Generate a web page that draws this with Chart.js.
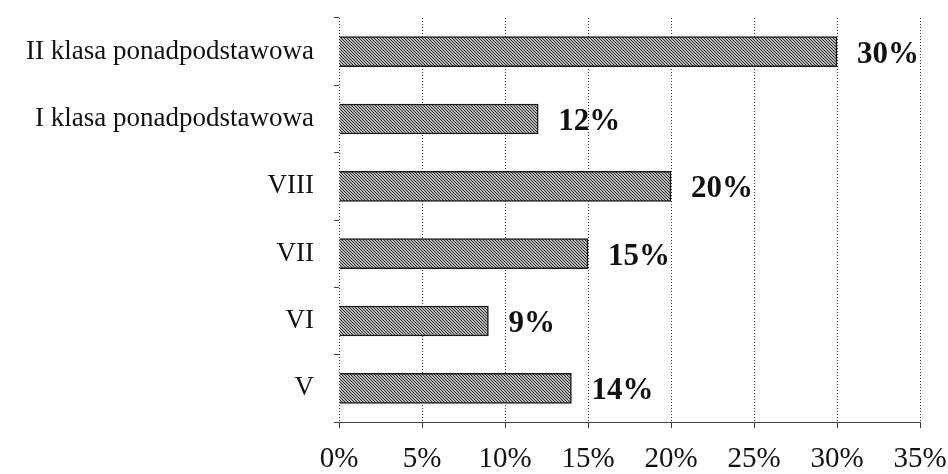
<!DOCTYPE html>
<html>
<head>
<meta charset="utf-8">
<script src="https://cdn.jsdelivr.net/npm/chart.js@4/dist/chart.umd.min.js"></script>
<style>
html,body{margin:0;padding:0;background:#fff;}
#wrap{width:948px;height:474px;}
</style>
</head>
<body>
<div id="wrap"><canvas id="c" width="948" height="474"></canvas></div>
<script>
const categories = ["II klasa ponadpodstawowa", "I klasa ponadpodstawowa", "VIII", "VII", "VI", "V"];
const values = [30, 12, 20, 15, 9, 14];
const xTicks = [0, 5, 10, 15, 20, 25, 30, 35];

function makePattern() {
  const t = document.createElement('canvas');
  t.width = 6; t.height = 6;
  const g = t.getContext('2d');
  g.fillStyle = '#b8b8b8';
  g.fillRect(0, 0, 6, 6);
  g.strokeStyle = '#2e2e2e';
  g.lineWidth = 1;
  g.beginPath();
  for (let i = -6; i <= 12; i += 3) {
    g.moveTo(i, 0); g.lineTo(i + 6, 6);
  }
  g.stroke();
  return document.getElementById('c').getContext('2d').createPattern(t, 'repeat');
}

const labelPlugin = {
  id: 'barLabels',
  afterDatasetsDraw(chart) {
    const ctx = chart.ctx;
    const meta = chart.getDatasetMeta(0);
    ctx.save();
    ctx.font = 'bold 31px "Liberation Serif", serif';
    ctx.fillStyle = '#111';
    ctx.textAlign = 'left';
    ctx.textBaseline = 'middle';
    meta.data.forEach((bar, i) => {
      ctx.fillText(values[i] + '%', bar.x + 20, bar.y + 3);
    });
    ctx.restore();
  }
};

new Chart(document.getElementById('c'), {
  type: 'bar',
  data: {
    labels: categories,
    datasets: [{
      data: values,
      backgroundColor: makePattern(),
      borderColor: '#1a1a1a',
      borderWidth: 1.5,
      barThickness: 30
    }]
  },
  options: {
    indexAxis: 'y',
    responsive: false,
    animation: false,
    layout: { padding: { top: 18, right: 28, left: 0, bottom: 0 } },
    plugins: { legend: { display: false }, tooltip: { enabled: false } },
    scales: {
      x: {
        min: 0, max: 35,
        afterBuildTicks(s) { s.ticks = xTicks.map(v => ({ value: v })); },
        afterFit(s) { s.height = 52; s.paddingLeft = 0; s.paddingRight = 0; },
        ticks: {
          callback: v => v + '%',
          color: '#111',
          font: { family: '"Liberation Serif", serif', size: 29 },
          padding: 14,
          maxRotation: 0
        },
        grid: {
          color: '#333',
          lineWidth: 1,
          tickLength: 6,
          drawTicks: true
        },
        border: { display: true, color: '#444', width: 1, dash: [1, 2] }
      },
      y: {
        afterFit(s) { s.width = 339; s.paddingTop = 0; s.paddingBottom = 0; },
        ticks: {
          color: '#111',
          font: { family: '"Liberation Serif", serif', size: 27 },
          padding: 20
        },
        grid: { drawOnChartArea: false, drawTicks: true, tickLength: 5, offset: true, color: '#444' },
        border: { display: false }
      }
    }
  },
  plugins: [labelPlugin]
});
</script>
</body>
</html>
